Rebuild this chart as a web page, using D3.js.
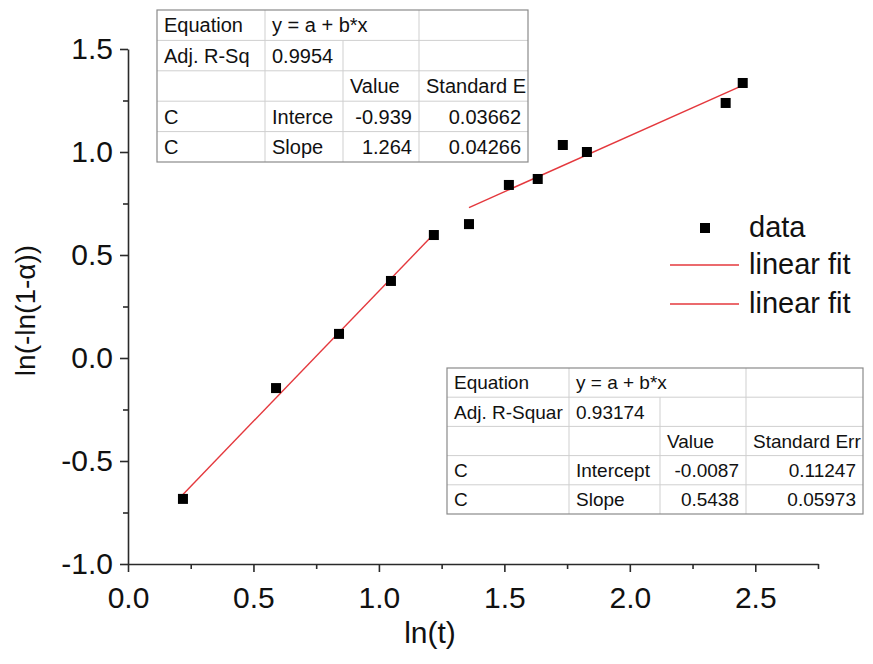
<!DOCTYPE html>
<html>
<head>
<meta charset="utf-8">
<script src="https://cdn.jsdelivr.net/npm/d3@7"></script>
<style>
  body { margin: 0; background: #fff; }
  text { font-family: Arial, "Liberation Sans", sans-serif; fill: #111; }
</style>
</head>
<body>
<svg id="chart" width="873" height="664"></svg>
<script>
// Measured points: ln(t) vs ln(-ln(1-alpha))
const lnT      = [0.219, 0.590, 0.841, 1.048, 1.219, 1.359, 1.518, 1.633, 1.733, 1.829, 2.382, 2.450];
const lnLnTerm = [-0.684, -0.146, 0.117, 0.374, 0.597, 0.650, 0.840, 0.869, 1.034, 1.000, 1.238, 1.335];

// Two linear fits (first / last index of the points each covers)
const fitIntercepts = [-0.939, -0.0087];
const fitSlopes     = [1.264, 0.5438];
const fitRanges     = [[0, 4], [5, 11]];

// Axis ticks
const xTicks = [0.0, 0.5, 1.0, 1.5, 2.0, 2.5];
const xMinor = [0.25, 0.75, 1.25, 1.75, 2.25, 2.75];
const yTicks = [-1.0, -0.5, 0.0, 0.5, 1.0, 1.5];
const yMinor = [-0.75, -0.25, 0.25, 0.75, 1.25];

// Fit-result tables
const table1Rows = [
  ["Equation", "y = a + b*x", "", ""],
  ["Adj. R-Sq", "0.9954", "", ""],
  ["", "", "Value", "Standard E"],
  ["C", "Interce", "-0.939", "0.03662"],
  ["C", "Slope", "1.264", "0.04266"]
];
const table2Rows = [
  ["Equation", "y = a + b*x", "", ""],
  ["Adj. R-Squar", "0.93174", "", ""],
  ["", "", "Value", "Standard Err"],
  ["C", "Intercept", "-0.0087", "0.11247"],
  ["C", "Slope", "0.5438", "0.05973"]
];

const legendLabels = ["data", "linear fit", "linear fit"];

const svg = d3.select("#chart");
const W = 873, H = 664;
const margin = { left: 128, right: 55, top: 49, bottom: 100 };

const x = d3.scaleLinear().domain([0, 2.75]).range([margin.left, W - margin.right]);
const y = d3.scaleLinear().domain([-1.0, 1.5]).range([H - margin.bottom, margin.top]);

const fmt = d => d.toFixed(1);
const axisColor = "#2a2a2a";
const tickFont = 30;

// X axis
const gx = svg.append("g").attr("transform", `translate(0,${y(-1.0)})`);
gx.call(d3.axisBottom(x).tickValues(xTicks).tickSize(8).tickSizeOuter(0).tickFormat(fmt));
gx.append("g").call(d3.axisBottom(x).tickValues(xMinor).tickSize(5).tickFormat(""))
  .select(".domain").remove();
gx.selectAll("path, line").attr("stroke", axisColor).attr("stroke-width", 1.6);
gx.selectAll("text").attr("font-size", tickFont).attr("dy", 0).attr("y", 44)
  .style("font-family", "Arial, 'Liberation Sans', sans-serif").attr("fill", "#111");

// Y axis
const gy = svg.append("g").attr("transform", `translate(${x(0)},0)`);
gy.call(d3.axisLeft(y).tickValues(yTicks).tickSize(8).tickSizeOuter(0).tickFormat(fmt));
gy.append("g").call(d3.axisLeft(y).tickValues(yMinor).tickSize(5).tickFormat(""))
  .select(".domain").remove();
gy.selectAll("path, line").attr("stroke", axisColor).attr("stroke-width", 1.6);
gy.selectAll("text").attr("font-size", tickFont).attr("x", -15)
  .style("font-family", "Arial, 'Liberation Sans', sans-serif").attr("fill", "#111");

// Axis titles
svg.append("text").attr("x", 430).attr("y", 643)
  .attr("text-anchor", "middle").attr("font-size", 30).text("ln(t)");
svg.append("text").attr("transform", `translate(35,${(y(-1) + y(1.5)) / 2 + 4}) rotate(-90)`)
  .attr("text-anchor", "middle").attr("font-size", 28).text("ln(-ln(1-α))");

// Fit lines
const fitColor = "#e4383d";
fitIntercepts.forEach((a, i) => {
  const b = fitSlopes[i];
  const x0 = lnT[fitRanges[i][0]], x1 = lnT[fitRanges[i][1]];
  svg.append("line")
    .attr("x1", x(x0)).attr("y1", y(a + b * x0))
    .attr("x2", x(x1)).attr("y2", y(a + b * x1))
    .attr("stroke", fitColor).attr("stroke-width", 1.4);
});

// Data squares
const sq = 10;
svg.append("g").selectAll("rect").data(lnT).join("rect")
  .attr("x", d => x(d) - sq / 2)
  .attr("y", (d, i) => y(lnLnTerm[i]) - sq / 2)
  .attr("width", sq).attr("height", sq).attr("fill", "#000");

// Fit tables
function drawTable(x0, y0, colW, rowH, rows, fs) {
  const g = svg.append("g");
  const cx = [x0];
  colW.forEach(w => cx.push(cx[cx.length - 1] + w));
  const totalW = cx[cx.length - 1] - x0, totalH = rowH * rows.length;
  g.append("rect").attr("x", x0).attr("y", y0).attr("width", totalW).attr("height", totalH)
    .attr("fill", "#fff");
  const inner = "#cfcfcf";
  for (let r = 1; r < rows.length; r++) {
    g.append("line").attr("x1", x0).attr("x2", x0 + totalW)
      .attr("y1", y0 + r * rowH).attr("y2", y0 + r * rowH).attr("stroke", inner);
  }
  // column separators: col 1|2 starts below the equation row
  [[1, 0], [2, 1], [3, 0]].forEach(([c, r0]) => {
    g.append("line").attr("x1", cx[c]).attr("x2", cx[c])
      .attr("y1", y0 + r0 * rowH).attr("y2", y0 + totalH).attr("stroke", inner);
  });
  g.append("rect").attr("x", x0).attr("y", y0).attr("width", totalW).attr("height", totalH)
    .attr("fill", "none").attr("stroke", "#8a8a8a").attr("stroke-width", 1.2);
  rows.forEach((row, r) => {
    row.forEach((t, c) => {
      if (!t) return;
      const right = r >= 3 && c >= 2;
      g.append("text")
        .attr("x", right ? cx[c + 1] - 7 : cx[c] + 7)
        .attr("y", y0 + r * rowH + rowH / 2 + fs * 0.36)
        .attr("text-anchor", right ? "end" : "start")
        .attr("font-size", fs).text(t);
    });
  });
}
drawTable(157, 10, [108, 78, 76, 109], 30.4, table1Rows, 20);
drawTable(447, 368, [122, 91, 86, 117], 29.2, table2Rows, 19);

// Legend
const lg = svg.append("g");
lg.append("rect").attr("x", 705 - sq / 2).attr("y", 228 - sq / 2).attr("width", sq).attr("height", sq)
  .attr("fill", "#000");
[265, 304].forEach(ly => {
  lg.append("line").attr("x1", 670).attr("x2", 739).attr("y1", ly).attr("y2", ly)
    .attr("stroke", fitColor).attr("stroke-width", 1.4);
});
[237, 274, 313].forEach((by, i) => {
  lg.append("text").attr("x", 749).attr("y", by).attr("font-size", 29).text(legendLabels[i]);
});
</script>
</body>
</html>
